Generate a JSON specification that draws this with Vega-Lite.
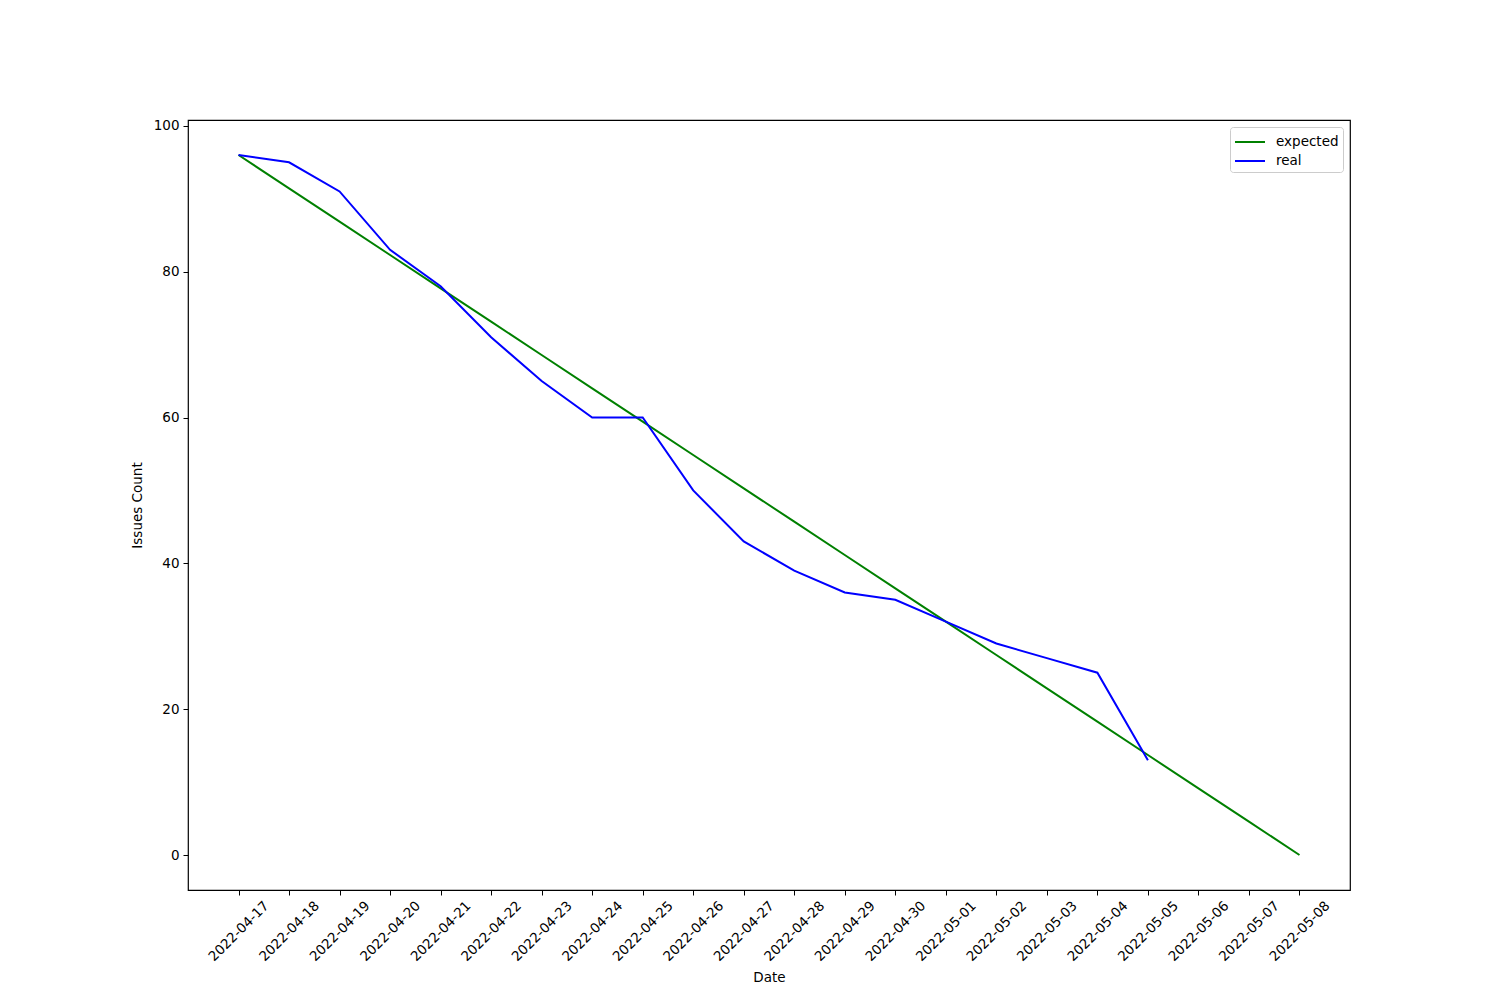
{
  "$schema": "https://vega.github.io/schema/vega-lite/v6.json",
  "width": 1162,
  "height": 770,
  "autosize": {"type": "none"},
  "padding": {"left": 188, "top": 120, "right": 150, "bottom": 110},
  "background": "white",
  "config": {
    "font": "DejaVu Sans",
    "view": {"stroke": "black", "strokeWidth": 1.2},
    "axis": {
      "grid": false,
      "domain": false,
      "tickColor": "black",
      "tickSize": 5,
      "tickWidth": 1,
      "labelColor": "black",
      "labelFontSize": 13.5,
      "labelFont": "DejaVu Sans",
      "titleFont": "DejaVu Sans",
      "titleFontSize": 13.5,
      "titleFontWeight": "normal",
      "titleColor": "black"
    }
  },
  "data": {
    "values": [
      {"date": "2022-04-17", "series": "expected", "value": 96},
      {"date": "2022-04-18", "series": "expected", "value": 91.43},
      {"date": "2022-04-19", "series": "expected", "value": 86.86},
      {"date": "2022-04-20", "series": "expected", "value": 82.29},
      {"date": "2022-04-21", "series": "expected", "value": 77.71},
      {"date": "2022-04-22", "series": "expected", "value": 73.14},
      {"date": "2022-04-23", "series": "expected", "value": 68.57},
      {"date": "2022-04-24", "series": "expected", "value": 64},
      {"date": "2022-04-25", "series": "expected", "value": 59.43},
      {"date": "2022-04-26", "series": "expected", "value": 54.86},
      {"date": "2022-04-27", "series": "expected", "value": 50.29},
      {"date": "2022-04-28", "series": "expected", "value": 45.71},
      {"date": "2022-04-29", "series": "expected", "value": 41.14},
      {"date": "2022-04-30", "series": "expected", "value": 36.57},
      {"date": "2022-05-01", "series": "expected", "value": 32},
      {"date": "2022-05-02", "series": "expected", "value": 27.43},
      {"date": "2022-05-03", "series": "expected", "value": 22.86},
      {"date": "2022-05-04", "series": "expected", "value": 18.29},
      {"date": "2022-05-05", "series": "expected", "value": 13.71},
      {"date": "2022-05-06", "series": "expected", "value": 9.14},
      {"date": "2022-05-07", "series": "expected", "value": 4.57},
      {"date": "2022-05-08", "series": "expected", "value": 0},
      {"date": "2022-04-17", "series": "real", "value": 96},
      {"date": "2022-04-18", "series": "real", "value": 95},
      {"date": "2022-04-19", "series": "real", "value": 91},
      {"date": "2022-04-20", "series": "real", "value": 83},
      {"date": "2022-04-21", "series": "real", "value": 78},
      {"date": "2022-04-22", "series": "real", "value": 71},
      {"date": "2022-04-23", "series": "real", "value": 65},
      {"date": "2022-04-24", "series": "real", "value": 60},
      {"date": "2022-04-25", "series": "real", "value": 60},
      {"date": "2022-04-26", "series": "real", "value": 50},
      {"date": "2022-04-27", "series": "real", "value": 43},
      {"date": "2022-04-28", "series": "real", "value": 39},
      {"date": "2022-04-29", "series": "real", "value": 36},
      {"date": "2022-04-30", "series": "real", "value": 35},
      {"date": "2022-05-01", "series": "real", "value": 32},
      {"date": "2022-05-02", "series": "real", "value": 29},
      {"date": "2022-05-03", "series": "real", "value": 27},
      {"date": "2022-05-04", "series": "real", "value": 25},
      {"date": "2022-05-05", "series": "real", "value": 13}
    ]
  },
  "mark": {"type": "line", "strokeWidth": 2, "clip": true},
  "encoding": {
    "x": {
      "field": "date",
      "type": "ordinal",
      "sort": "ascending",
      "scale": {"type": "point", "padding": 1.05},
      "axis": {
        "title": "Date",
        "labelAngle": -45,
        "labelAlign": "center",
        "labelBaseline": "middle",
        "labelPadding": 36,
        "titlePadding": 7
      }
    },
    "y": {
      "field": "value",
      "type": "quantitative",
      "scale": {"domain": [-4.8, 100.8], "nice": false, "zero": false},
      "axis": {"title": "Issues Count", "values": [0, 20, 40, 60, 80, 100], "labelPadding": 4, "titlePadding": 9}
    },
    "color": {
      "field": "series",
      "type": "nominal",
      "scale": {"domain": ["expected", "real"], "range": ["green", "blue"]},
      "legend": {
        "title": null,
        "orient": "top-right",
        "offset": 7,
        "symbolType": "M-1,0H2",
        "symbolSize": 400,
        "symbolStrokeWidth": 2,
        "symbolFillColor": "transparent",
        "labelFontSize": 13.5,
        "labelFont": "DejaVu Sans",
        "labelColor": "black",
        "labelOffset": 20,
        "rowPadding": 1,
        "strokeColor": "#cccccc",
        "fillColor": "white",
        "cornerRadius": 3,
        "padding": 4
      }
    }
  }
}
